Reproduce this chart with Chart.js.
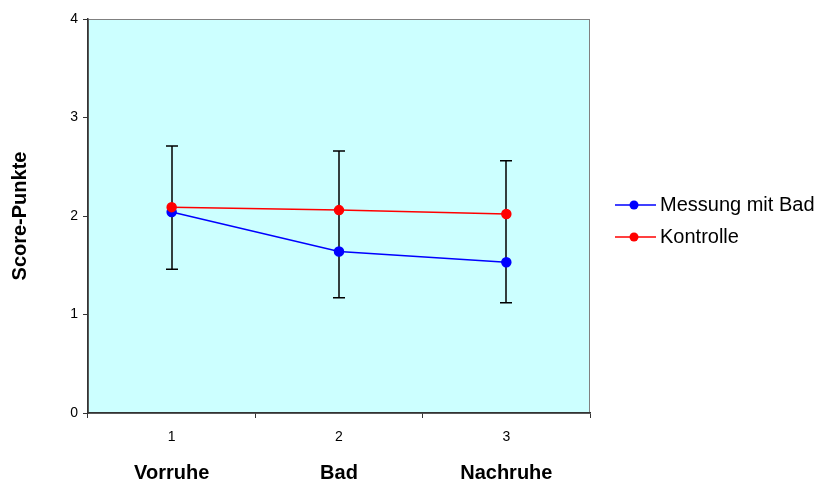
<!DOCTYPE html>
<html>
<head>
<meta charset="utf-8">
<script src="https://cdn.jsdelivr.net/npm/chart.js@4"></script>
<style>
  html, body { margin: 0; padding: 0; background: #fff; }
  #wrap { width: 819px; height: 484px; position: relative; }
</style>
</head>
<body>
<div id="wrap"><canvas id="scoreChart"></canvas></div>
<script>
const phases = ['Vorruhe', 'Bad', 'Nachruhe'];
const phaseNumbers = ['1', '2', '3'];
const mitBad = [2.04, 1.64, 1.53];
const kontrolle = [2.09, 2.06, 2.02];
const errorHigh = [2.71, 2.66, 2.56];
const errorLow = [1.46, 1.17, 1.12];
const yTicks = [0, 1, 2, 3, 4];

const FONT = 'Arial, "Liberation Sans", sans-serif';

const plotBackground = {
    id: 'plotBackground',
    beforeDraw(chart) {
        const { ctx, chartArea: a } = chart;
        ctx.save();
        ctx.fillStyle = '#CCFFFF';
        ctx.fillRect(a.left, a.top, a.right - a.left, a.bottom - a.top);
        ctx.strokeStyle = '#808080';
        ctx.lineWidth = 1;
        ctx.strokeRect(a.left + 0.5, a.top + 0.5, a.right - a.left - 1, a.bottom - a.top);
        ctx.restore();
    }
};

const errorBars = {
    id: 'errorBars',
    beforeDatasetsDraw(chart) {
        const { ctx, scales } = chart;
        ctx.save();
        ctx.strokeStyle = '#000';
        ctx.lineWidth = 1.5;
        errorHigh.forEach((hi, i) => {
            const x = Math.round(scales.x.getPixelForValue(i));
            const yHi = scales.y.getPixelForValue(hi);
            const yLo = scales.y.getPixelForValue(errorLow[i]);
            ctx.beginPath();
            ctx.moveTo(x, yHi); ctx.lineTo(x, yLo);
            ctx.moveTo(x - 6, yHi); ctx.lineTo(x + 6, yHi);
            ctx.moveTo(x - 6, yLo); ctx.lineTo(x + 6, yLo);
            ctx.stroke();
        });
        ctx.restore();
    }
};

const sideLegend = {
    id: 'sideLegend',
    afterDraw(chart) {
        const { ctx } = chart;
        ctx.save();
        ctx.font = '20px ' + FONT;
        ctx.textBaseline = 'middle';
        chart.data.datasets.forEach((ds, i) => {
            const y = 205 + i * 32;
            ctx.strokeStyle = ds.borderColor;
            ctx.lineWidth = 1.5;
            ctx.beginPath();
            ctx.moveTo(615, y); ctx.lineTo(656, y);
            ctx.stroke();
            ctx.fillStyle = ds.borderColor;
            ctx.beginPath();
            ctx.arc(634, y, 4.5, 0, Math.PI * 2);
            ctx.fill();
            ctx.fillStyle = '#000';
            ctx.fillText(ds.label, 660, y);
        });
        ctx.restore();
    }
};

const ctx = document.getElementById('scoreChart').getContext('2d');
new Chart(ctx, {
    type: 'line',
    data: {
        labels: phaseNumbers,
        datasets: [{
            label: 'Messung mit Bad',
            data: mitBad,
            borderColor: '#0000FF',
            backgroundColor: '#0000FF',
            borderWidth: 1.5,
            pointRadius: 4.5,
            pointHoverRadius: 4.5,
            order: 1
        }, {
            label: 'Kontrolle',
            data: kontrolle,
            borderColor: '#FF0000',
            backgroundColor: '#FF0000',
            borderWidth: 1.5,
            pointRadius: 4.5,
            pointHoverRadius: 4.5,
            order: 0
        }]
    },
    options: {
        responsive: true,
        maintainAspectRatio: false,
        animation: false,
        layout: {
            padding: { top: 19, right: 229, left: 0, bottom: 0 }
        },
        scales: {
            x: {
                type: 'category',
                offset: true,
                grid: {
                    offset: true,
                    drawOnChartArea: false,
                    tickLength: 5,
                    color: '#333'
                },
                border: { color: '#333', width: 1.5 },
                ticks: {
                    color: '#000',
                    padding: 11,
                    font: { family: FONT, size: 14 }
                },
                afterFit: s => { s.height = 38; }
            },
            x2: {
                type: 'category',
                position: 'bottom',
                labels: phases,
                offset: true,
                grid: { display: false, drawTicks: false },
                border: { display: false },
                ticks: {
                    color: '#000',
                    padding: 10,
                    font: { family: FONT, size: 20, weight: 'bold' }
                },
                afterFit: s => { s.height = 33; }
            },
            y: {
                min: 0,
                max: 4,
                afterBuildTicks: s => { s.ticks = yTicks.map(v => ({ value: v })); },
                grid: {
                    drawOnChartArea: false,
                    tickLength: 5,
                    color: '#333'
                },
                border: { color: '#333', width: 1.5 },
                ticks: {
                    color: '#000',
                    padding: 5,
                    font: { family: FONT, size: 14 }
                },
                title: {
                    display: true,
                    text: 'Score-Punkte',
                    color: '#000',
                    padding: { top: 8, bottom: 0 },
                    font: { family: FONT, size: 20, weight: 'bold' }
                },
                afterFit: s => { s.width = 88; }
            }
        },
        plugins: {
            legend: { display: false },
            tooltip: { enabled: false }
        }
    },
    plugins: [plotBackground, errorBars, sideLegend]
});
</script>
</body>
</html>
